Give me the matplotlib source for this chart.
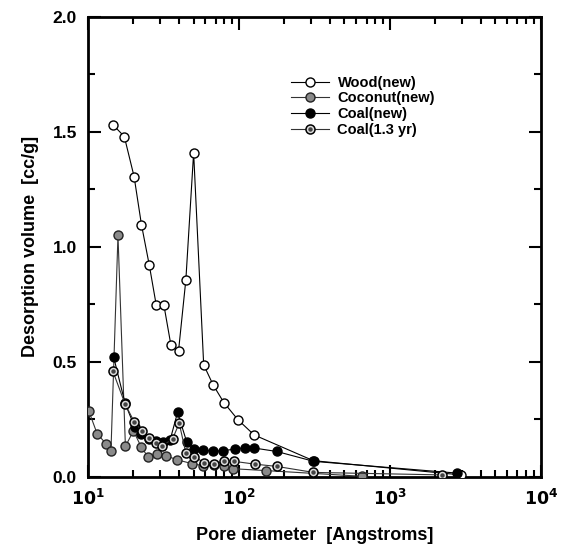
import matplotlib
matplotlib.use('Agg')
import matplotlib.pyplot as plt
from matplotlib.ticker import LogLocator, MultipleLocator, FixedLocator
from matplotlib.legend_handler import HandlerTuple

plt.rcParams['font.family'] = ['Liberation Sans', 'DejaVu Sans']
plt.rcParams['font.weight'] = 'bold'

# pore diameter [Angstroms] / desorption volume [cc/g]
wood_x = [14.7, 17.4, 20.2, 22.6, 25.5, 28.3, 31.8, 35.4, 39.8, 44.5, 50.1,
          58.4, 67.4, 79.4, 98.5, 126, 311, 2960]
wood_y = [1.53, 1.48, 1.306, 1.097, 0.919, 0.748, 0.748, 0.574, 0.548, 0.857, 1.41,
          0.487, 0.40, 0.323, 0.248, 0.182, 0.07, 0.008]

coconut_x = [9.0, 10.1, 11.5, 13.2, 14.2, 15.8, 17.7, 20.0, 22.5, 25.0, 28.6, 33.0,
             38.8, 49.0, 58.0, 68.0, 80.0, 91.0, 150, 653]
coconut_y = [0.42, 0.288, 0.187, 0.143, 0.114, 1.05, 0.132, 0.20, 0.13, 0.086, 0.10,
             0.091, 0.074, 0.057, 0.048, 0.052, 0.045, 0.035, 0.027, 0.002]

coal_x = [14.8, 17.6, 20.4, 22.6, 25.2, 28.4, 31.5, 35.0, 39.2, 45.0, 50.5, 58.0,
          67.0, 79.0, 94.0, 109, 126, 178, 313, 2770]
coal_y = [0.52, 0.32, 0.216, 0.185, 0.165, 0.155, 0.15, 0.16, 0.28, 0.153, 0.12, 0.117,
          0.11, 0.114, 0.12, 0.127, 0.125, 0.11, 0.067, 0.016]

coal_old_x = [14.6, 17.6, 20.2, 22.9, 25.4, 28.4, 31.1, 36.3, 40.2, 44.5, 50.6, 58.4,
              68.0, 80.0, 93.0, 127, 178, 311, 2230]
coal_old_y = [0.46, 0.317, 0.24, 0.197, 0.168, 0.149, 0.135, 0.164, 0.233, 0.103, 0.088,
              0.062, 0.057, 0.067, 0.067, 0.055, 0.045, 0.019, 0.008]

labels = ['Wood(new)', 'Coconut(new)', 'Coal(new)', 'Coal(1.3 yr)']

fig = plt.figure(figsize=(5.64, 5.48), dpi=100)
ax = fig.add_axes([0.156, 0.13, 0.803, 0.839])

ms = 6.5
lw = 0.8
h_wood, = ax.plot(wood_x, wood_y, '-o', color='black', lw=lw, ms=ms,
                  mfc='white', mec='black', mew=1.0, zorder=3)
h_coco, = ax.plot(coconut_x, coconut_y, '-o', color='#333333', lw=lw, ms=ms,
                  mfc='#8a8a8a', mec='#222222', mew=1.0, zorder=4)
h_coal, = ax.plot(coal_x, coal_y, '-o', color='black', lw=lw, ms=ms,
                  mfc='black', mec='black', mew=1.0, zorder=5)
h_old, = ax.plot(coal_old_x, coal_old_y, '-o', color='#333333', lw=lw, ms=ms,
                 mfc='#dddddd', mec='black', mew=1.1, zorder=6)
h_dot, = ax.plot(coal_old_x, coal_old_y, 'o', ms=2.2, mfc='#444444', mec='#444444',
                 zorder=7)

ax.set_xscale('log')
ax.set_xlim(10, 1e4)
ax.set_ylim(0, 2.0)

ax.yaxis.set_major_locator(MultipleLocator(0.5))
ax.yaxis.set_minor_locator(MultipleLocator(0.25))
ax.yaxis.set_major_formatter(plt.FormatStrFormatter('%.1f'))
ax.xaxis.set_major_locator(FixedLocator([10, 100, 1000, 10000]))
ax.xaxis.set_minor_locator(LogLocator(base=10, subs=range(2, 10)))
ax.set_xticklabels(['$\\mathbf{10^1}$', '$\\mathbf{10^2}$', '$\\mathbf{10^3}$',
                    '$\\mathbf{10^4}$'])

ax.tick_params(which='both', direction='in', top=True, right=True, width=1.5,
               labelsize=12.5, pad=8)
ax.tick_params(which='major', length=9)
ax.tick_params(which='minor', length=5)
for s in ax.spines.values():
    s.set_linewidth(2)

ax.set_xlabel('Pore diameter  [Angstroms]', fontsize=13, fontweight='bold', labelpad=14)
ax.set_ylabel('Desorption volume  [cc/g]', fontsize=13, fontweight='bold', labelpad=10)

leg = ax.legend([h_wood, h_coco, h_coal, (h_old, h_dot)], labels,
                handler_map={tuple: HandlerTuple(ndivide=1, pad=0)},
                loc='upper left', bbox_to_anchor=(0.435, 0.885), frameon=False,
                fontsize=10.5, handlelength=2.6, handletextpad=0.6,
                labelspacing=0.12, borderaxespad=0)
for t in leg.get_texts():
    t.set_fontweight('bold')

fig.savefig('out.png', dpi=100)
